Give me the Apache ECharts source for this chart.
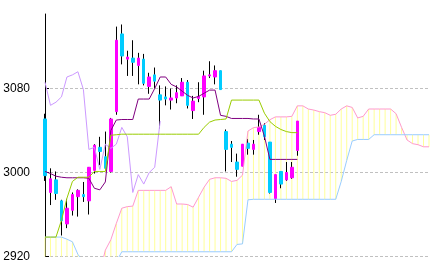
<!DOCTYPE html>
<html><head><meta charset="utf-8">
<script src="https://cdn.jsdelivr.net/npm/echarts@6/dist/echarts.min.js"></script>
<style>html,body{margin:0;padding:0;background:#fff}#c{width:433px;height:270px}</style>
</head><body><div id="c"></div>
<script>
// period index along the x axis (0..70)
const categories = ["0","1","2","3","4","5","6","7","8","9","10","11","12","13","14","15","16","17","18","19","20","21","22","23","24","25","26","27","28","29","30","31","32","33","34","35","36","37","38","39","40","41","42","43","44","45","46","47","48","49","50","51","52","53","54","55","56","57","58","59","60","61","62","63","64","65","66","67","68","69","70"];

// candles (periods 0..46)
const opens  = [3051,2981,2993,2973,2951,2964,2977,2979,2973,3002,3024,3015,3001,3058,3132,3108,3109,3102,3108,3082,3093,3074,3072,3069,3071,3073,3086,3059,3070.5,3072,3092,3091,3097,3039,3027,3010,3006,3028,3022,3039,3045,3029,2975,3001,2993,2995,3021];
const closes = [2997,2994,2980,2954,2966,2979,2983,2977,3005,3026,3020,3004,3051,3126,3111,3110,3105,3109,3085,3091,3087,3069,3070,3071,3076,3086,3064,3068,3072.5,3092,3093,3097,3079,3022,3024,3003,3027,3023,3027,3043,3034,2981,2998,2989,3000,3005,3049];
const lows   = [2992,2969,2974,2940,2947,2959,2958,2972,2960,2999,3007,3003,3000,3055,3103,3092,3092,3084,3083,3075,3080,3042,3064,3060,3066,3073,3061,3051,3067,3055,3090,3084,3079,3001,3010,2996,3006,3017,3017,3036,3031,2980,2971,2985,2992,2994,3016];
const highs  = [3056,3004,3001,2974,2975,2981,2984,2991,3005,3027,3034,3039,3052,3139,3141,3116,3126,3114,3113,3095,3100,3083,3082,3080,3083,3090,3088,3073,3086,3097,3106,3102,3097,3041,3030,3018,3027,3032,3031,3055,3047,3029,2998,3001,3010,3010,3049];

// conversion line (periods 0..46)
const conversion = [3001,2999,2996.5,2995.5,2995,2995,2995,2995,2994.5,2985,2983.5,2991,3040,3050,3050.5,3050.5,3050.5,3070,3070,3070,3080,3091,3091,3084,3081.5,3077.5,3073.5,3071,3072.5,3075.5,3078.5,3078.5,3054.5,3053.5,3051.5,3051.5,3051.5,3051.5,3051,3051,3034.5,3012.5,3012.5,3012.5,3012.5,3012.5,3012.5];
// base line (periods 0..46)
const base = [2938.5,2938.5,2938.5,2954.5,2975.5,2991.5,2995.5,2995.5,2995.5,3001,3001,3001,3035.5,3036,3036.5,3036.5,3036.5,3036.5,3036.5,3036.5,3036.5,3036.5,3036.5,3036.5,3036.5,3036.5,3036.5,3036.5,3036.5,3043,3048,3050,3050.5,3051,3069,3069,3069,3069,3069,3069,3056.5,3048.5,3044,3041,3039,3038,3038];
// lagging line (periods 0..21)
const lagging = [3086,3064,3067,3072,3091,3093,3096,3079,3022,3024,3003,3027,3023,3027,3043,3034,2981,2998,2989,3000,3005,3049];
// leading span A (periods 0..70)
const spanA = [2908,2906,2904,2903,2903,2904,2905,2905,2904,2903,2905,2926,2936,2951.5,2966,2967.5,2968,2983,2983,2983,2983,2983,2983,2986.5,2970,2970,2969.5,2967,2976.5,2986,2993.5,2995,2995,2994.5,2991.5,2992.5,2997.5,3039.5,3042.7,3043.4,3046,3050.3,3053,3053,3053,3053.5,3063.5,3063.5,3060.5,3059.5,3058,3057,3054.5,3055.5,3060.5,3063.5,3062,3052,3053.5,3060.5,3060.5,3060.5,3060.5,3060.5,3056,3043,3031,3027.5,3026.5,3024.5,3024.5];
// leading span B (periods 0..70)
const spanB = [2938.5,2938.5,2938.5,2938.5,2936.5,2934,2922,2915,2915,2915,2915,2915,2915,2915,2924.5,2924.5,2924.5,2924.5,2924.5,2924.5,2924.5,2924.5,2924.5,2924.5,2924.5,2924.5,2924.5,2924.5,2924.5,2924.5,2924.5,2924.5,2924.5,2924.5,2924.5,2931.5,2932,2974,2974.5,2974.5,2974.5,2974.5,2974.5,2974.5,2974.5,2974.5,2974.5,2974.5,2974.5,2974.5,2974.5,2974.5,2974.5,2974.5,2991.5,3011.5,3030,3031.5,3031.5,3031.5,3036,3036,3036,3036,3036,3036,3036,3036,3036,3036,3036];
// y tick labels
const yTicks = [2920, 3000, 3080];

const wickData = opens.map((o, i) => [o, closes[i], lows[i], highs[i]]);
const bodyData = opens.map((o, i) => [o, closes[i], Math.min(o, closes[i]), Math.max(o, closes[i])]);
const cloudLow = spanA.map((a, i) => Math.min(a, spanB[i]));
const cloudSize = spanA.map((a, i) => Math.abs(a - spanB[i]));

const lineS = (data, color) => ({
  type: 'line', data: data, symbol: 'none', showSymbol: false, silent: true,
  lineStyle: { color: color, width: 1 }, itemStyle: { color: color }
});

const chart = echarts.init(document.getElementById('c'), null, { renderer: 'canvas' });
chart.setOption({
  animation: false,
  backgroundColor: '#fff',
  grid: { left: 45, top: 14, width: 384, height: 242.5 },
  xAxis: {
    type: 'category', data: categories, boundaryGap: false,
    axisLine: { show: false }, axisTick: { show: false }, axisLabel: { show: false }, splitLine: { show: false }
  },
  yAxis: {
    type: 'value', min: 2920, max: 3151, interval: 80,
    axisLine: { show: true, lineStyle: { color: '#000', width: 1 } },
    axisTick: { show: true, inside: true, length: 4, lineStyle: { color: '#000' } },
    axisLabel: {
      color: '#000', fontSize: 12, margin: 15, showMaxLabel: false,
      fontFamily: "'Liberation Sans Narrow', 'Liberation Sans', Arial, sans-serif",
      formatter: v => yTicks.includes(v) ? String(v) : ''
    },
    splitLine: { show: true, showMaxLine: false, lineStyle: { color: '#c0c0c0', type: [3, 2], width: 1 } }
  },
  series: [
    { type: 'bar', stack: 'cloud', data: cloudLow, barWidth: 1, silent: true, itemStyle: { color: 'rgba(0,0,0,0)' } },
    { type: 'bar', stack: 'cloud', data: cloudSize, barWidth: 1, silent: true, itemStyle: { color: '#ffff99' } },
    lineS(spanA, '#ff99cc'),
    lineS(spanB, '#99ccff'),
    lineS(lagging, '#cc99ff'),
    { type: 'candlestick', data: wickData, barWidth: 1, silent: true,
      itemStyle: { color: '#000', color0: '#000', borderColor: '#000', borderColor0: '#000', borderWidth: 1 } },
    { type: 'candlestick', data: bodyData, barWidth: 3, silent: true,
      itemStyle: { color: '#ff00ff', color0: '#00ccff', borderColor: '#ff00ff', borderColor0: '#00ccff', borderWidth: 1 } },
    lineS(conversion, '#800080'),
    lineS(base, '#99cc00')
  ]
});
</script>
</body></html>
